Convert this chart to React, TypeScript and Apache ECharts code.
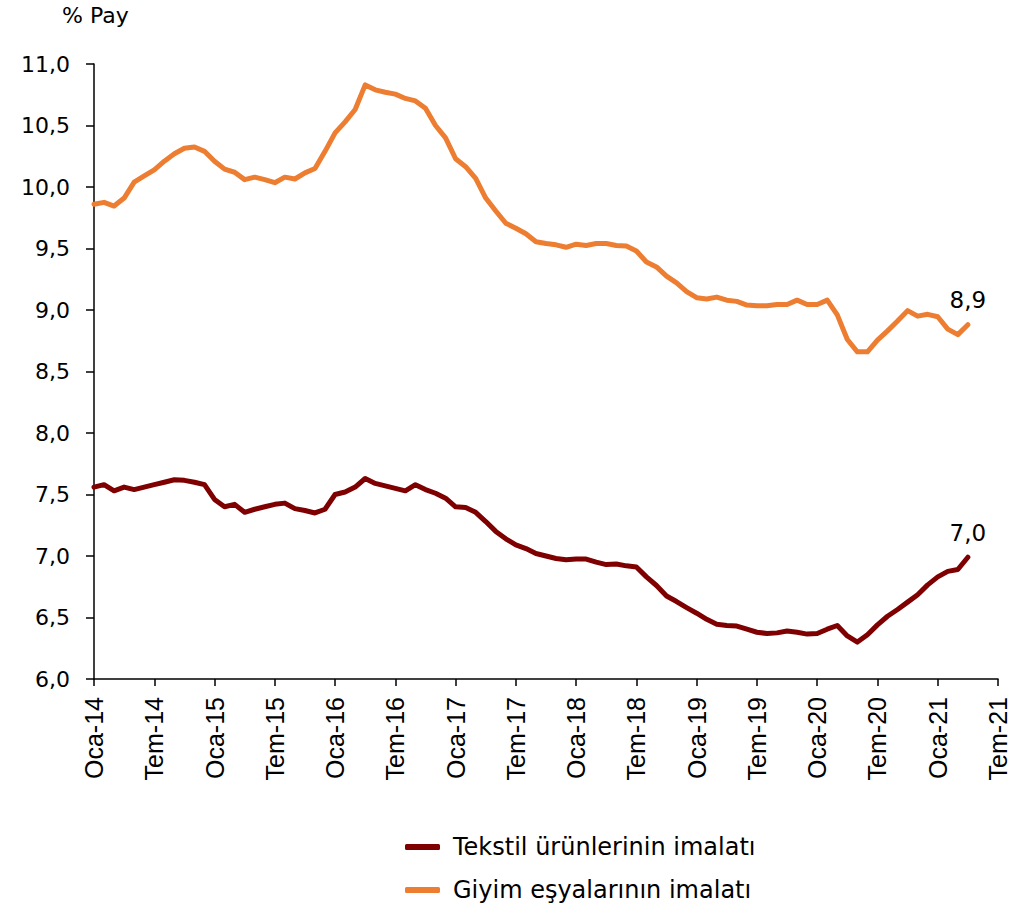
import React, { useEffect, useRef } from "react";
import * as echarts from "echarts";

const MONTHS = ["Oca", "Şub", "Mar", "Nis", "May", "Haz", "Tem", "Ağu", "Eyl", "Eki", "Kas", "Ara"];
const YEARS = ["14", "15", "16", "17", "18", "19", "20", "21"];
const AXIS_END = "Tem-21";

const SERIES_NAMES = ["Tekstil ürünlerinin imalatı", "Giyim eşyalarının imalatı"];

// Tekstil ürünlerinin imalatı, Oca-14 .. Nis-21
const tekstil = [
  7.56, 7.58, 7.53, 7.56, 7.54, 7.56, 7.58, 7.60, 7.62, 7.615, 7.60, 7.58,
  7.46, 7.40, 7.42, 7.355, 7.38, 7.40, 7.42, 7.43, 7.385, 7.37, 7.35, 7.38,
  7.50, 7.52, 7.56, 7.63, 7.59, 7.57, 7.55, 7.53, 7.58, 7.54, 7.51, 7.47,
  7.40, 7.395, 7.355, 7.28, 7.20, 7.14, 7.09, 7.06, 7.02, 7.00, 6.98, 6.97,
  6.975, 6.975, 6.95, 6.93, 6.935, 6.92, 6.91, 6.83, 6.76, 6.675, 6.63, 6.58,
  6.535, 6.485, 6.445, 6.435, 6.43, 6.405, 6.38, 6.37, 6.375, 6.39, 6.38, 6.365,
  6.37, 6.405, 6.435, 6.35, 6.30, 6.36, 6.44, 6.51, 6.565, 6.625, 6.685, 6.765,
  6.83, 6.875, 6.89, 6.99,
];

// Giyim eşyalarının imalatı, Oca-14 .. Nis-21
const giyim = [
  9.86, 9.875, 9.845, 9.91, 10.04, 10.09, 10.14, 10.21, 10.27, 10.315, 10.325, 10.29,
  10.21, 10.145, 10.12, 10.06, 10.08, 10.06, 10.035, 10.08, 10.065, 10.115, 10.15, 10.29,
  10.44, 10.53, 10.63, 10.83, 10.79, 10.77, 10.755, 10.72, 10.70, 10.64, 10.50, 10.40,
  10.23, 10.165, 10.07, 9.91, 9.805, 9.705, 9.665, 9.62, 9.555, 9.54, 9.53, 9.51,
  9.535, 9.525, 9.54, 9.54, 9.525, 9.52, 9.48, 9.39, 9.35, 9.275, 9.22, 9.15,
  9.10, 9.09, 9.105, 9.08, 9.07, 9.04, 9.035, 9.035, 9.045, 9.045, 9.08, 9.045,
  9.045, 9.08, 8.96, 8.76, 8.66, 8.66, 8.755, 8.83, 8.91, 8.995, 8.95, 8.965,
  8.945, 8.845, 8.80, 8.88,
];

const COLORS = ["#7F0000", "#ED7D31"];

function buildCategories(): string[] {
  const out: string[] = [];
  for (const y of YEARS) {
    for (const m of MONTHS) {
      const c = `${m}-${y}`;
      out.push(c);
      if (c === AXIS_END) return out;
    }
  }
  return out;
}

const fmt = (v: number) => v.toFixed(1).replace(".", ",");

function lastPointMark(values: number[], categories: string[]) {
  const i = values.length - 1;
  const v = values[i];
  return {
    silent: true,
    symbol: "circle",
    symbolSize: 2,
    itemStyle: { color: "rgba(0,0,0,0)" },
    label: {
      show: true,
      position: "top",
      distance: 12,
      formatter: () => fmt(v),
      fontSize: 23,
      fontFamily: "DejaVu Sans",
      color: "#000",
    },
    data: [{ coord: [categories[i], v], value: v }],
  };
}

const legendBase = {
  orient: "vertical",
  left: 405,
  padding: 0,
  icon: "roundRect",
  itemWidth: 35,
  itemHeight: 6,
  textStyle: { fontSize: 24, fontFamily: "DejaVu Sans", color: "#000", padding: [0, 0, 0, 8] },
};

export default function App() {
  const ref = useRef<HTMLDivElement>(null);

  useEffect(() => {
    document.body.style.margin = "0";
    if (!ref.current) return;
    const chart = echarts.init(ref.current, undefined, { renderer: "svg" });
    const categories = buildCategories();
    const axisColor = "#000";
    chart.setOption({
      animation: false,
      backgroundColor: "#fff",
      title: {
        text: "% Pay",
        left: 62,
        top: 4,
        padding: 0,
        textStyle: { fontSize: 22, fontWeight: "normal", fontFamily: "DejaVu Sans", color: "#000" },
      },
      grid: { left: 94, right: 35, top: 64, bottom: 232, containLabel: false },
      legend: [
        { ...legendBase, data: [SERIES_NAMES[0]], top: 835 },
        { ...legendBase, data: [SERIES_NAMES[1]], top: 878 },
      ],
      xAxis: {
        type: "category",
        data: categories,
        boundaryGap: false,
        axisLine: { show: true, lineStyle: { color: axisColor, width: 1.5 } },
        axisTick: { show: true, interval: 5, length: 7, lineStyle: { color: axisColor, width: 1.5 } },
        axisLabel: {
          interval: 5,
          rotate: 90,
          margin: 18,
          fontSize: 25,
          fontFamily: "Liberation Sans",
          color: "#000",
        },
        splitLine: { show: false },
      },
      yAxis: {
        type: "value",
        min: 6,
        max: 11,
        interval: 0.5,
        axisLine: { show: true, lineStyle: { color: axisColor, width: 1.5 } },
        axisTick: { show: true, length: 8, lineStyle: { color: axisColor, width: 1.5 } },
        axisLabel: {
          margin: 24,
          fontSize: 22,
          fontFamily: "DejaVu Sans",
          color: "#000",
          formatter: (v: number) => fmt(v),
        },
        splitLine: { show: false },
      },
      series: [
        {
          name: SERIES_NAMES[0],
          type: "line",
          data: tekstil,
          symbol: "none",
          color: COLORS[0],
          lineStyle: { width: 5, color: COLORS[0], cap: "round", join: "round" },
          markPoint: lastPointMark(tekstil, categories),
        },
        {
          name: SERIES_NAMES[1],
          type: "line",
          data: giyim,
          symbol: "none",
          color: COLORS[1],
          lineStyle: { width: 5, color: COLORS[1], cap: "round", join: "round" },
          markPoint: lastPointMark(giyim, categories),
        },
      ],
    });
    return () => chart.dispose();
  }, []);

  return <div ref={ref} style={{ width: 1033, height: 911 }} />;
}
